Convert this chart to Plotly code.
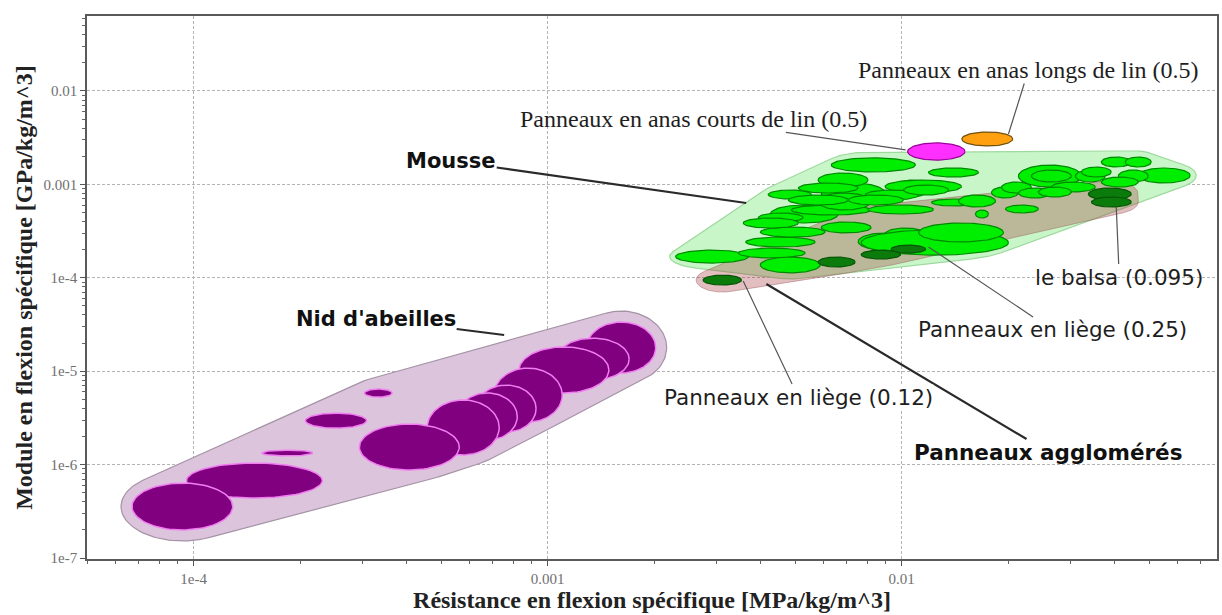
import math
import numpy as np
import plotly.graph_objects as go

# ---------------------------------------------------------------
# Records: flexural strength range [MPa/kg/m^3] and flexural
# modulus range [GPa/kg/m^3] (min / max for each record)
# ---------------------------------------------------------------

# Nid d'abeilles
nid_res_min = [6.7e-5, 9.55e-5, 1.56e-4, 2.07e-4, 3.04e-4, 2.94e-4, 4.57e-4,
               5.56e-4, 6.29e-4, 7.06e-4, 8.31e-4, 1.06e-3, 1.29e-3]
nid_res_max = [1.29e-4, 2.31e-4, 2.17e-4, 3.08e-4, 3.64e-4, 5.63e-4, 7.30e-4,
               8.21e-4, 9.28e-4, 1.10e-3, 1.49e-3, 1.70e-3, 2.02e-3]
nid_mod_min = [2.0e-7, 4.39e-7, 1.24e-6, 2.46e-6, 5.29e-6, 8.75e-7, 1.27e-6,
               1.83e-6, 2.23e-6, 2.86e-6, 5.85e-6, 8.05e-6, 9.57e-6]
nid_mod_max = [6.35e-7, 1.04e-6, 1.43e-6, 3.56e-6, 6.44e-6, 2.72e-6, 4.92e-6,
               5.85e-6, 7.11e-6, 1.08e-5, 1.82e-5, 2.26e-5, 3.36e-5]

# Mousses
mousse_res_min = [2.30e-3, 3.46e-3, 3.99e-3, 3.63e-3, 3.99e-3, 4.26e-3, 4.20e-3,
                  4.88e-3, 5.93e-3, 5.93e-3, 6.33e-3, 7.54e-3, 8.98e-3, 9.59e-3,
                  8.98e-3, 1.191e-2, 7.89e-3, 5.81e-3, 5.81e-3, 1.215e-2, 1.448e-2,
                  1.617e-2, 1.966e-2, 1.794e-2, 2.138e-2, 2.327e-2, 3.096e-2,
                  3.666e-2, 4.283e-2, 4.661e-2, 4.094e-2, 3.666e-2, 2.649e-2,
                  1.915e-2, 2.138e-2, 2.435e-2, 7.69e-3, 1.117e-2, 3.220e-2,
                  5.11e-3, 7.07e-3, 8.04e-3, 3.94e-3, 1.013e-2, 4.79e-3, 3.57e-3]
mousse_res_max = [3.69e-3, 5.34e-3, 5.89e-3, 5.70e-3, 6.08e-3, 6.62e-3, 5.56e-3,
                  8.20e-3, 8.98e-3, 8.20e-3, 1.095e-2, 1.067e-2, 1.169e-2, 1.191e-2,
                  1.477e-2, 1.649e-2, 1.117e-2, 8.04e-3, 8.20e-3, 1.617e-2, 1.842e-2,
                  1.760e-2, 2.435e-2, 2.138e-2, 3.220e-2, 3.017e-2, 3.763e-2,
                  4.455e-2, 5.073e-2, 6.535e-2, 4.975e-2, 4.661e-2, 3.526e-2,
                  2.327e-2, 2.649e-2, 3.017e-2, 2.004e-2, 1.940e-2, 3.912e-2,
                  7.54e-3, 1.013e-2, 1.231e-2, 5.27e-3, 1.357e-2, 7.07e-3, 5.11e-3]
mousse_mod_min = [1.44e-4, 1.63e-4, 1.13e-4, 2.14e-4, 2.73e-4, 3.86e-4, 6.98e-4,
                  4.70e-4, 6.32e-4, 3.02e-4, 1.36e-3, 1.98e-4, 2.54e-4, 7.33e-4,
                  8.09e-4, 1.20e-3, 6.81e-4, 9.38e-4, 5.32e-4, 5.87e-4, 5.73e-4,
                  4.37e-4, 4.94e-4, 7.15e-4, 9.38e-4, 1.061e-3, 1.061e-3,
                  1.536e-3, 1.536e-3, 1.035e-3, 1.061e-3, 9.38e-4, 8.29e-4,
                  8.09e-4, 7.15e-4, 7.33e-4, 1.75e-4, 2.42e-4, 1.20e-3,
                  8.09e-4, 6.02e-4, 4.82e-4, 3.96e-4, 7.70e-4, 6.02e-4, 3.41e-4]
mousse_mod_max = [1.98e-4, 2.08e-4, 1.67e-4, 2.73e-4, 3.50e-4, 6.02e-4, 8.71e-4,
                  6.02e-4, 1.035e-3, 3.96e-4, 1.92e-3, 3.02e-4, 3.41e-4, 1.115e-3,
                  1.115e-3, 1.50e-3, 8.71e-4, 1.325e-3, 8.09e-4, 6.98e-4, 7.70e-4,
                  5.32e-4, 6.02e-4, 9.38e-4, 1.61e-3, 1.426e-3, 1.426e-3,
                  1.965e-3, 1.965e-3, 1.498e-3, 1.426e-3, 1.20e-3, 1.061e-3,
                  1.061e-3, 9.15e-4, 9.38e-4, 3.25e-4, 3.86e-4, 1.536e-3,
                  1.035e-3, 7.70e-4, 6.02e-4, 4.94e-4, 9.85e-4, 7.70e-4, 4.37e-4]

# Panneaux agglomérés (liège, balsa...) ; the first two records sit
# entirely under the foam bubbles and only shape the envelope
agglo_res_min = [7.07e-3, 1.272e-2, 2.75e-3, 5.81e-3, 7.69e-3, 9.34e-3, 3.37e-2, 3.44e-2]
agglo_res_max = [9.77e-3, 1.877e-2, 3.53e-3, 7.39e-3, 9.94e-3, 1.169e-2, 4.455e-2, 4.455e-2]
agglo_mod_min = [3.67e-4, 4.70e-4, 8.37e-5, 1.305e-4, 1.59e-4, 1.84e-4, 6.81e-4, 5.73e-4]
agglo_mod_max = [4.94e-4, 6.17e-4, 1.07e-4, 1.67e-4, 1.98e-4, 2.24e-4, 9.15e-4, 7.33e-4]
agglo_hidden = 2

# Panneaux en anas de lin (courts, longs)
lin_res_min = [1.04e-2, 1.48e-2]
lin_res_max = [1.51e-2, 2.06e-2]
lin_mod_min = [1.82e-3, 2.58e-3]
lin_mod_max = [2.78e-3, 3.64e-3]

# Axis ticks
x_tick_vals = [1e-4, 1e-3, 1e-2]
x_tick_text = ["1e-4", "0.001", "0.01"]
y_tick_vals = [1e-7, 1e-6, 1e-5, 1e-4, 1e-3, 1e-2]
y_tick_text = ["1e-7", "1e-6", "1e-5", "1e-4", "0.001", "0.01"]

# ---------------------------------------------------------------
W, H = 1222, 615
MARGIN = dict(l=87, r=3, t=16, b=56)
XR = [math.log10(5.0e-5), math.log10(0.0778)]
YR = [-7.01, math.log10(0.0635)]
KX = (W - MARGIN["l"] - MARGIN["r"]) / (XR[1] - XR[0])   # px per decade
KY = (H - MARGIN["t"] - MARGIN["b"]) / (YR[1] - YR[0])

SANS = "DejaVu Sans"
SERIF = "Liberation Serif"


def ellipse_log(x0, x1, y0, y1, pad=0.0, n=90):
    """Ellipse inscribed in a property box, returned in log10 units."""
    lx0, lx1, ly0, ly1 = map(math.log10, (x0, x1, y0, y1))
    cx, cy = (lx0 + lx1) / 2, (ly0 + ly1) / 2
    a = (lx1 - lx0) / 2 + pad / KX
    b = (ly1 - ly0) / 2 + pad / KY
    t = np.linspace(0, 2 * np.pi, n)
    return cx + a * np.cos(t), cy + b * np.sin(t)


def convex_hull(pts):
    pts = sorted(set(pts))
    if len(pts) < 3:
        return pts

    def cross(o, a, b):
        return (a[0] - o[0]) * (b[1] - o[1]) - (a[1] - o[1]) * (b[0] - o[0])

    lower, upper = [], []
    for p in pts:
        while len(lower) >= 2 and cross(lower[-2], lower[-1], p) <= 0:
            lower.pop()
        lower.append(p)
    for p in reversed(pts):
        while len(upper) >= 2 and cross(upper[-2], upper[-1], p) <= 0:
            upper.pop()
        upper.append(p)
    return lower[:-1] + upper[:-1]


def envelope(xmin, xmax, ymin, ymax, pad):
    """Family envelope: convex hull of the padded record ellipses."""
    pts = []
    for x0, x1, y0, y1 in zip(xmin, xmax, ymin, ymax):
        lx, ly = ellipse_log(x0, x1, y0, y1, pad=pad, n=120)
        pts += [(round(u * KX, 3), round(v * KY, 3)) for u, v in zip(lx, ly)]
    hull = convex_hull(pts)
    hull.append(hull[0])
    xs = [10 ** (p[0] / KX) for p in hull]
    ys = [10 ** (p[1] / KY) for p in hull]
    return xs, ys


fig = go.Figure()


def add_area(xs, ys, fill, line, width):
    fig.add_trace(go.Scatter(x=xs, y=ys, mode="lines", fill="toself",
                             fillcolor=fill, line=dict(color=line, width=width),
                             hoverinfo="skip", showlegend=False))


def add_records(xmin, xmax, ymin, ymax, fill, line, width, idx):
    for i in idx:
        lx, ly = ellipse_log(xmin[i], xmax[i], ymin[i], ymax[i])
        add_area(10 ** lx, 10 ** ly, fill, line, width)


# Envelopes
add_area(*envelope(nid_res_min, nid_res_max, nid_mod_min, nid_mod_max, 11),
         "#dcc4dc", "#a493a4", 1.2)
add_area(*envelope(mousse_res_min, mousse_res_max, mousse_mod_min, mousse_mod_max, 6),
         "#c8f6c8", "#9ed99e", 1.2)
add_area(*envelope(agglo_res_min, agglo_res_max, agglo_mod_min, agglo_mod_max, 7),
         "rgba(160,40,50,0.30)", "rgba(150,90,90,0.45)", 1.0)

# Record bubbles
DARK_FILL, DARK_LINE = "#0b7c0b", "#055505"
add_records(nid_res_min, nid_res_max, nid_mod_min, nid_mod_max,
            "#800080", "#f07ef0", 1.5, range(len(nid_res_min) - 1, -1, -1))
add_records(mousse_res_min, mousse_res_max, mousse_mod_min, mousse_mod_max,
            "#00ee00", "#008800", 1.2, range(len(mousse_res_min)))
add_records(agglo_res_min, agglo_res_max, agglo_mod_min, agglo_mod_max,
            DARK_FILL, DARK_LINE, 1.2, range(agglo_hidden, len(agglo_res_min)))
add_records(lin_res_min, lin_res_max, lin_mod_min, lin_mod_max,
            "#ff30ff", "#9a009a", 1.2, [0])
add_records(lin_res_min, lin_res_max, lin_mod_min, lin_mod_max,
            "#ffa010", "#6e5010", 1.2, [1])


# Labels with leader lines
def label(text, tx, ty, ax, ay, font, lw, lc, bg=None):
    d = dict(x=math.log10(tx), y=math.log10(ty), xref="x", yref="y", text=text,
             showarrow=True, arrowhead=0, arrowwidth=lw, arrowcolor=lc,
             ax=ax, ay=ay, font=font, standoff=0, borderpad=0)
    if bg:
        d["bgcolor"] = bg
    return d


f_bold = dict(family=SANS, size=21, color="#111111")
f_bold2 = dict(family=SANS, size=21.5, color="#111111")
f_sans = dict(family=SANS, size=21.5, color="#1e1e1e")
f_serif = dict(family=SERIF, size=24, color="#1e1e1e")

annotations = [
    label("<b>Panneaux agglomérés</b>", 4.15e-3, 8.58e-5, 282, 168, f_bold2, 2.2, "#2a2a2a"),
    label("Panneaux en liège (0.12)", 3.57e-3, 9.23e-5, 55, 116, f_sans, 1.2, "#555555", "white"),
    label("Panneaux en liège (0.25)", 1.191e-2, 2.14e-4, 124, 83, f_sans, 1.2, "#555555"),
    label("le balsa (0.095)", 4.04e-2, 5.73e-4, 3, 70, f_sans, 1.2, "#555555"),
    label("<b>Mousse</b>", 3.64e-3, 6.32e-4, -295, -42, f_bold, 2.2, "#2a2a2a"),
    label("<b>Nid d'abeilles</b>", 7.54e-4, 2.44e-5, -128, -16, f_bold, 2.0, "#2a2a2a"),
    label("Panneaux en anas courts de lin (0.5)", 1.026e-2, 2.34e-3, -212, -31,
          f_serif, 1.2, "#555555"),
    label("Panneaux en anas longs de lin (0.5)", 2.004e-2, 3.46e-3, 20, -64,
          f_serif, 1.2, "#555555"),
]


def minor_vals(lo, hi):
    return [m * 10.0 ** e for e in range(lo, hi) for m in range(2, 10)]


axis_common = dict(
    type="log", showgrid=True, gridcolor="#b4b4b4", gridwidth=1, griddash="3px,2px",
    ticks="outside", ticklen=5, tickcolor="#555555", tickwidth=1,
    showline=True, linecolor="#5a5a5a", linewidth=1.5, mirror=True, zeroline=False,
    tickfont=dict(family=SERIF, size=15, color="#707070"),
)

fig.update_layout(
    width=W, height=H, margin=MARGIN,
    paper_bgcolor="white", plot_bgcolor="white",
    showlegend=False,
    annotations=annotations,
    xaxis=dict(axis_common, range=XR, tickmode="array",
               tickvals=x_tick_vals, ticktext=x_tick_text,
               minor=dict(tickvals=minor_vals(-5, -1), ticks="outside", ticklen=3,
                          tickcolor="#666666", showgrid=False),
               title=dict(text="<b>Résistance en flexion spécifique [MPa/kg/m^3]</b>",
                          font=dict(family=SERIF, size=24, color="#222222"), standoff=4)),
    yaxis=dict(axis_common, range=YR, tickmode="array",
               tickvals=y_tick_vals, ticktext=y_tick_text,
               minor=dict(tickvals=minor_vals(-7, -1), ticks="outside", ticklen=3,
                          tickcolor="#666666", showgrid=False),
               title=dict(text="<b>Module en flexion spécifique [GPa/kg/m^3]</b>",
                          font=dict(family=SERIF, size=24, color="#222222"), standoff=4)),
)

fig.write_html("out.html")
